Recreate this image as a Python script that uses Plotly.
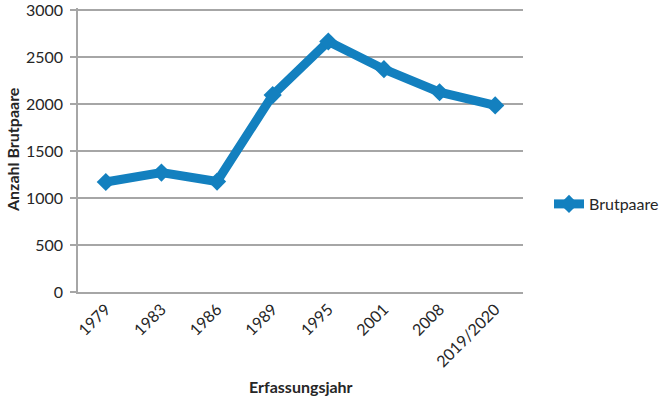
import plotly.graph_objects as go

years = ["1979", "1983", "1986", "1989", "1995", "2001", "2008", "2019/2020"]
brutpaare = [1170, 1270, 1175, 2095, 2665, 2370, 2125, 1985]
y_ticks = [0, 500, 1000, 1500, 2000, 2500, 3000]

color = "#1380BF"
grid = "#A6A6A6"
font = "Lato, 'Open Sans', sans-serif"

L, R, T, B = 78, 137, 8, 110
W, H = 660, 402
PW, PH = W - L - R, H - T - B
# top of value axis extends 2px above the 3000 gridline (page y=10)
y_top = 3000 * PH / (PH - 2)

fig = go.Figure()
fig.add_trace(go.Scatter(
    x=years, y=brutpaare, mode="lines+markers", name="Brutpaare",
    line=dict(color=color, width=9),
    marker=dict(symbol="diamond", size=14, color=color),
))

fig.update_layout(
    width=W, height=H,
    margin=dict(l=L, r=R, t=T, b=B, autoexpand=False),
    paper_bgcolor="white", plot_bgcolor="white",
    font=dict(family=font, size=16, color="#262626"),
    showlegend=True,
    legend=dict(x=1 + (549 - (W - R)) / PW, y=(H - B - 204) / PH, xanchor="left", yanchor="middle",
                font=dict(size=16, color="#262626"), bgcolor="rgba(0,0,0,0)"),
    xaxis=dict(
        type="category", range=[-0.5, 7.5], tickangle=-45, automargin=False,
        showgrid=False, showline=True, linecolor=grid, linewidth=1.5,
        ticks="", tickfont=dict(size=16),
    ),
    yaxis=dict(
        range=[0, y_top], tickvals=y_ticks, showgrid=True, gridcolor=grid, gridwidth=1.5,
        showline=True, linecolor=grid, linewidth=1.5, zeroline=False, automargin=False,
        ticks="outside", ticklen=6, tickcolor=grid, tickwidth=1.5,
        tickfont=dict(size=16), ticklabelstandoff=4, ticklabeloverflow="allow",
    ),
    annotations=[
        dict(text="<b>Erfassungsjahr</b>", xref="paper", yref="paper",
             x=0.5, y=-(387 - (H - B)) / PH, xanchor="center", yanchor="middle",
             showarrow=False, font=dict(size=16, color="#262626")),
        dict(text="<b>Anzahl Brutpaare</b>", xref="paper", yref="paper",
             x=-(L - 12) / PW, y=0.5, xanchor="center", yanchor="middle",
             textangle=-90, showarrow=False, font=dict(size=16, color="#262626")),
    ],
)

fig.write_html("out.html", config={"displayModeBar": False},
               post_script="document.body.style.margin='0px';")
